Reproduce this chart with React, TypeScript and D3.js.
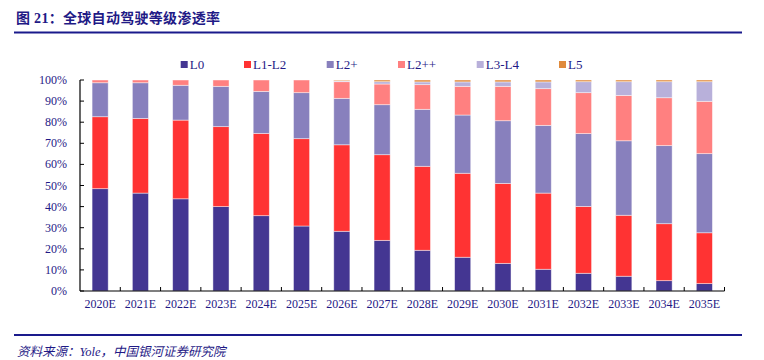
import React from "react";
import * as d3 from "d3";

const years = ["2020E","2021E","2022E","2023E","2024E","2025E","2026E","2027E","2028E","2029E","2030E","2031E","2032E","2033E","2034E","2035E"];
const L0 = [48.5,46.4,43.7,40.0,35.7,30.8,28.3,24.0,19.3,16.0,13.1,10.3,8.4,7.0,4.9,3.5];
const L1L2 = [34.1,35.4,37.3,37.9,39.0,41.4,41.0,40.6,39.8,39.8,37.9,36.1,31.7,28.9,27.0,24.1];
const L2p = [16.1,16.9,16.5,19.1,19.9,21.8,22.0,23.7,27.0,27.6,29.7,32.1,34.5,35.3,37.0,37.5];
const L2pp = [1.3,1.3,2.5,3.0,5.4,6.0,7.9,9.8,11.7,13.6,16.3,17.4,19.4,21.5,22.7,24.8];
const L3L4 = [0,0,0,0,0,0,0.4,1.1,1.3,2.1,2.1,3.2,5.2,6.5,7.6,9.3];
const L5 = [0,0,0,0,0,0,0.4,0.8,0.9,0.9,0.9,0.9,0.8,0.8,0.8,0.8];
const seriesNames = ["L0","L1-L2","L2+","L2++","L3-L4","L5"];
const seriesColors = ["#443692","#FF3333","#8880BD","#FF8080","#B8B0DA","#E08A3C"];
const yTicks = [0,10,20,30,40,50,60,70,80,90,100];

const navy = "#1f1a86";
const serif = "'Times New Roman', 'Liberation Serif', serif";

export default function App() {
  const W = 764, H = 360;
  const left = 80, right = 724.5, top = 80, bottom = 291;
  const x = d3.scaleBand<string>().domain(years).range([left, right]).paddingInner(0.6).paddingOuter(0.3);
  const y = d3.scaleLinear().domain([0, 100]).range([bottom, top]);
  const seriesVals = [L0, L1L2, L2p, L2pp, L3L4, L5];
  const table = years.map((yr, i) => {
    const row: any = { year: yr };
    seriesNames.forEach((n, k) => (row[n] = seriesVals[k][i]));
    return row;
  });
  const stacked = d3.stack<any>().keys(seriesNames)(table);
  const step = x.step();
  const legendX = [180.7, 244, 326.7, 398, 476.7, 559];

  return (
    <svg width={W} height={H} style={{ position: "absolute", left: 0, top: 0 }}>
      <rect width={W} height={H} fill="#fff" />
      <text x={16} y={23} fontSize={14} fontWeight="bold" fill={navy}
        fontFamily={"'Liberation Serif', 'Noto Sans CJK SC', serif"} letterSpacing={0.3}>
        图 21：全球自动驾驶等级渗透率
      </text>
      <line x1={14} x2={742} y1={32.5} y2={32.5} stroke="#1a1a8c" strokeWidth={2} />
      {seriesNames.map((n, k) => (
        <g key={n}>
          <rect x={legendX[k]} y={61} width={7} height={7} fill={seriesColors[k]} />
          <text x={legendX[k] + 9} y={69} fontSize={13} fontFamily={serif} fill={navy}>{n}</text>
        </g>
      ))}
      {stacked.map((s, k) => (
        <g key={k} fill={seriesColors[k]}>
          {s.map((d, i) => {
            const h = y(d[0]) - y(d[1]);
            if (h <= 0) return null;
            return (
              <rect key={i} x={x(years[i])} y={y(d[1])} width={x.bandwidth()} height={h}
                stroke="#ffffff" strokeOpacity={0.55} strokeWidth={0.8} />
            );
          })}
        </g>
      ))}
      <line x1={left} x2={left} y1={top} y2={bottom} stroke="#000" strokeWidth={1.2} />
      <line x1={left} x2={right} y1={bottom} y2={bottom} stroke="#000" strokeWidth={1.2} />
      {yTicks.map((t) => (
        <g key={t}>
          <line x1={left} x2={left + 4} y1={y(t)} y2={y(t)} stroke="#000" strokeWidth={1} />
          <text x={67} y={y(t) + 4} textAnchor="end" fontSize={12} fontFamily={serif} fill={navy}>{t}%</text>
        </g>
      ))}
      {years.map((yr, i) => (
        <g key={yr}>
          <line x1={left + step * (i + 1)} x2={left + step * (i + 1)} y1={bottom} y2={bottom - 4} stroke="#000" strokeWidth={1} />
          <text x={(x(yr) as number) + x.bandwidth() / 2} y={308} textAnchor="middle" fontSize={12} fontFamily={serif} fill={navy}>{yr}</text>
        </g>
      ))}
      <line x1={14} x2={742} y1={335} y2={335} stroke="#1a1a8c" strokeWidth={2} />
      <text x={17} y={356} fontSize={12.5} fontStyle="italic" fill={navy}
        fontFamily={"'Liberation Serif', 'Noto Sans CJK SC', serif"}>
        资料来源：Yole，中国银河证券研究院
      </text>
    </svg>
  );
}
